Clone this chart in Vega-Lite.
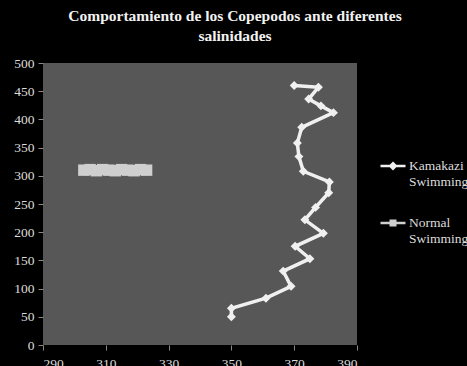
{
  "$schema": "https://vega.github.io/schema/vega-lite/v6.json",
  "autosize": {"type": "none"},
  "width": 314,
  "height": 282,
  "padding": {"left": 43, "top": 63, "right": 110, "bottom": 21},
  "background": "#000000",
  "title": {
    "text": ["Comportamiento de los Copepodos ante diferentes", "salinidades"],
    "font": "Liberation Serif",
    "fontSize": 15.5,
    "fontWeight": "bold",
    "color": "#f2f2f2",
    "lineHeight": 20,
    "offset": 12,
    "anchor": "middle",
    "dx": 35
  },
  "config": {
    "view": {"fill": "#575757", "stroke": null},
    "axis": {
      "labelFont": "Liberation Serif",
      "labelFontSize": 13.5,
      "labelColor": "#dddddd",
      "tickColor": "#888888",
      "tickSize": 5,
      "domain": false,
      "grid": false,
      "title": null
    }
  },
  "data": {
    "values": [
      {"series": "Kamakazi Swimming", "order": 1, "x": 350, "y": 50},
      {"series": "Kamakazi Swimming", "order": 2, "x": 350, "y": 65},
      {"series": "Kamakazi Swimming", "order": 3, "x": 361, "y": 83},
      {"series": "Kamakazi Swimming", "order": 4, "x": 369, "y": 104},
      {"series": "Kamakazi Swimming", "order": 5, "x": 366.5, "y": 131},
      {"series": "Kamakazi Swimming", "order": 6, "x": 375, "y": 153},
      {"series": "Kamakazi Swimming", "order": 7, "x": 370.3, "y": 175},
      {"series": "Kamakazi Swimming", "order": 8, "x": 379.3, "y": 198},
      {"series": "Kamakazi Swimming", "order": 9, "x": 373.4, "y": 222},
      {"series": "Kamakazi Swimming", "order": 10, "x": 376.8, "y": 244},
      {"series": "Kamakazi Swimming", "order": 11, "x": 381, "y": 270},
      {"series": "Kamakazi Swimming", "order": 12, "x": 381.2, "y": 289},
      {"series": "Kamakazi Swimming", "order": 13, "x": 372.9, "y": 308},
      {"series": "Kamakazi Swimming", "order": 14, "x": 371.5, "y": 334},
      {"series": "Kamakazi Swimming", "order": 15, "x": 371, "y": 358},
      {"series": "Kamakazi Swimming", "order": 16, "x": 372.4, "y": 386},
      {"series": "Kamakazi Swimming", "order": 17, "x": 382.5, "y": 412},
      {"series": "Kamakazi Swimming", "order": 18, "x": 378.5, "y": 424},
      {"series": "Kamakazi Swimming", "order": 19, "x": 374.6, "y": 436},
      {"series": "Kamakazi Swimming", "order": 20, "x": 377.7, "y": 457},
      {"series": "Kamakazi Swimming", "order": 21, "x": 370, "y": 460},
      {"series": "Normal Swimming", "order": 1, "x": 303, "y": 310},
      {"series": "Normal Swimming", "order": 2, "x": 305, "y": 311},
      {"series": "Normal Swimming", "order": 3, "x": 307, "y": 309},
      {"series": "Normal Swimming", "order": 4, "x": 309, "y": 311},
      {"series": "Normal Swimming", "order": 5, "x": 311, "y": 310},
      {"series": "Normal Swimming", "order": 6, "x": 313, "y": 309},
      {"series": "Normal Swimming", "order": 7, "x": 315, "y": 311},
      {"series": "Normal Swimming", "order": 8, "x": 317, "y": 310},
      {"series": "Normal Swimming", "order": 9, "x": 319, "y": 309},
      {"series": "Normal Swimming", "order": 10, "x": 321, "y": 311},
      {"series": "Normal Swimming", "order": 11, "x": 323, "y": 310}
    ]
  },
  "encoding": {
    "x": {
      "field": "x", "type": "quantitative",
      "scale": {"domain": [290, 390], "nice": false, "zero": false},
      "axis": {"values": [290, 310, 330, 350, 370, 390], "labelPadding": 6}
    },
    "y": {
      "field": "y", "type": "quantitative",
      "scale": {"domain": [0, 500], "nice": false},
      "axis": {"values": [0, 50, 100, 150, 200, 250, 300, 350, 400, 450, 500], "labelPadding": 4}
    },
    "order": {"field": "order", "type": "quantitative"}
  },
  "layer": [
    {
      "mark": {"type": "line", "strokeWidth": 3.5},
      "encoding": {
        "color": {
          "field": "series", "type": "nominal",
          "scale": {"domain": ["Kamakazi Swimming", "Normal Swimming"], "range": ["#f0f0f0", "#cfcfcf"]},
          "legend": {
            "title": null,
            "orient": "none",
            "legendX": 336,
            "legendY": 89,
            "labelFont": "Liberation Serif",
            "labelFontSize": 13.5,
            "labelColor": "#dddddd",
            "labelExpr": "split(datum.label, ' ')",
            "labelLimit": 0,
            "labelOffset": 2,
            "rowPadding": 21,
            "symbolSize": 625,
            "symbolStrokeWidth": 2.5,
            "symbolType": "stroke",
            "encode": {
              "symbols": {
                "update": {
                  "shape": {"signal": "datum.value == 'Kamakazi Swimming' ? 'M-1,0H1M0,-0.22L0.22,0L0,0.22L-0.22,0Z' : 'M-1,0H1M-0.18,-0.18H0.18V0.18H-0.18Z'"},
                  "fill": {"value": "#f0f0f0"},
                  "stroke": {"value": "#e6e6e6"}
                }
              }
            }
          }
        }
      }
    },
    {
      "transform": [{"filter": "datum.series == 'Kamakazi Swimming'"}],
      "mark": {"type": "point", "filled": true, "opacity": 1, "shape": "diamond", "size": 80, "color": "#f0f0f0"}
    },
    {
      "transform": [{"filter": "datum.series == 'Normal Swimming'"}],
      "mark": {"type": "point", "filled": true, "opacity": 1, "shape": "square", "size": 130, "color": "#cfcfcf"}
    }
  ]
}
